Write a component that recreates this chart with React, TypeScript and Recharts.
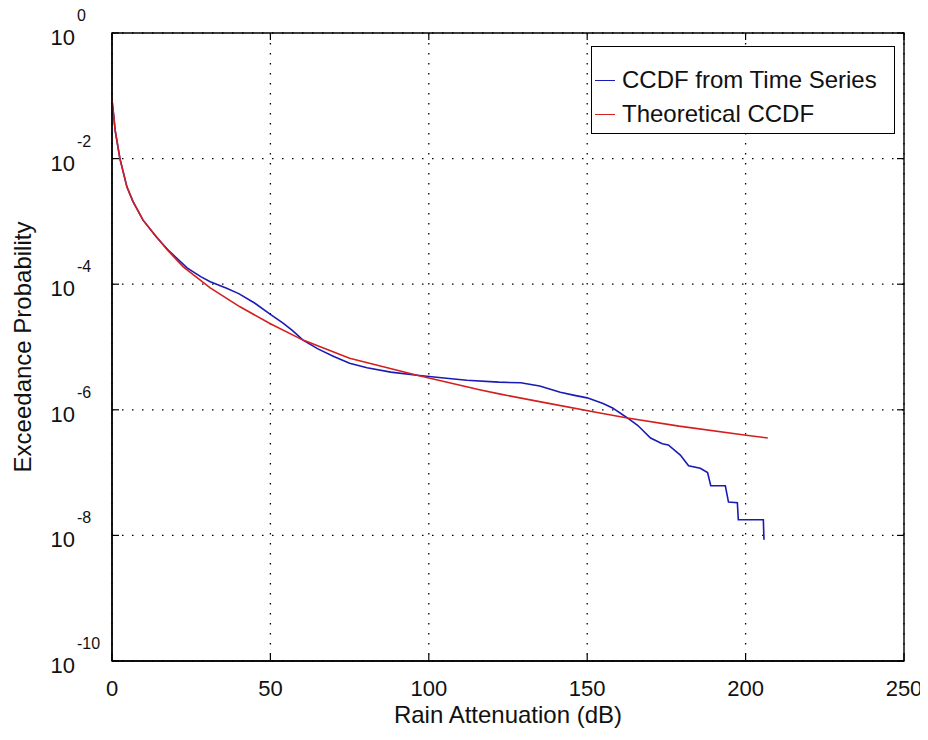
import {
  LineChart,
  Line,
  XAxis,
  YAxis,
  CartesianGrid,
  Legend,
  Label,
  ReferenceArea,
  ReferenceLine,
} from "recharts"

// x axis: rain attenuation in dB
const attenuationTicks = [0, 50, 100, 150, 200, 250]
// y axis: powers of ten shown on the log axis
const probabilityExponents = [-10, -8, -6, -4, -2, 0]

// CCDF from time series (blue) as log10 of probability
const timeSeriesDb = [
  0, 0.5, 1, 2.5, 4.7, 6.6, 9.8, 14, 18, 23.7, 28, 31, 36, 40, 45, 50, 54, 57, 60.3, 65, 70, 75,
  80.5, 88, 96.3, 104, 112, 122, 129, 135, 141.5, 146, 150, 155, 158, 162.7, 166, 170, 173.7,
  175.6, 179.4, 182, 185.7, 188, 189, 193.6, 194.6, 197.4, 197.7, 205.6, 205.8,
]
const timeSeriesLog10 = [
  -1.07, -1.3, -1.55, -2.0, -2.45, -2.68, -2.98, -3.25, -3.47, -3.74, -3.88, -3.96, -4.06, -4.15,
  -4.3, -4.48, -4.62, -4.74, -4.89, -5.03, -5.15, -5.26, -5.33, -5.4, -5.45, -5.49, -5.53, -5.56,
  -5.57, -5.62, -5.72, -5.77, -5.81, -5.9, -5.97, -6.13, -6.25, -6.45, -6.54, -6.56, -6.72, -6.89,
  -6.93, -7.0, -7.21, -7.21, -7.47, -7.48, -7.75, -7.75, -8.07,
]

// theoretical CCDF (red)
const theoreticalDb = [
  0, 0.5, 1, 2.5, 4.7, 6.6, 9.8, 13, 17.4, 22.4, 31, 40.4, 50, 60.3, 75, 96.3, 116, 122.6, 137,
  154, 162.7, 179, 199.6, 207,
]
const theoreticalLog10 = [
  -1.07, -1.3, -1.55, -2.0, -2.45, -2.68, -2.98, -3.18, -3.45, -3.72, -4.06, -4.36, -4.63, -4.89,
  -5.18, -5.45, -5.68, -5.75, -5.89, -6.05, -6.13, -6.26, -6.4, -6.45,
]

const seriesNames = ["CCDF from Time Series", "Theoretical CCDF"]
const seriesColors = ["#1a1ab4", "#d41f1f"]

const timeSeriesData = timeSeriesDb.map((x, i) => ({ x, p: Math.pow(10, timeSeriesLog10[i]) }))
const theoreticalData = theoreticalDb.map((x, i) => ({ x, p: Math.pow(10, theoreticalLog10[i]) }))
const probabilityTicks = probabilityExponents.map((e) => Math.pow(10, e))

const FONT = "'Liberation Sans', Arial, Helvetica, sans-serif"
const INK = "#111"
const TICK_LEN = 7

function BottomTick({ x, y, payload }: any) {
  return (
    <g>
      <line x1={x} y1={y} x2={x} y2={y - TICK_LEN} stroke="#000" strokeWidth={1.2} />
      <text x={x} y={y + 35} textAnchor="middle" fontFamily={FONT} fontSize={22} fill={INK}>
        {payload.value}
      </text>
    </g>
  )
}

function LeftTick({ x, y, payload }: any) {
  const exp = Math.round(Math.log10(payload.value))
  return (
    <g>
      <line x1={x} y1={y} x2={x + TICK_LEN} y2={y} stroke="#000" strokeWidth={1.2} />
      <text x={x - 37} y={y + 12} textAnchor="end" fontFamily={FONT} fontSize={22} fill={INK}>
        10
      </text>
      <text x={x - 35} y={y - 12} fontFamily={FONT} fontSize={16} fill={INK}>
        {exp}
      </text>
    </g>
  )
}

// inward tick at the top edge of a vertical reference line
function TopTickShape({ x1, y1, y2 }: any) {
  const top = Math.min(y1, y2)
  return <line x1={x1} y1={top} x2={x1} y2={top + TICK_LEN} stroke="#000" strokeWidth={1.2} />
}

// inward tick at the right edge of a horizontal reference line
function RightTickShape({ x1, x2, y1 }: any) {
  const right = Math.max(x1, x2)
  return <line x1={right} y1={y1} x2={right - TICK_LEN} y2={y1} stroke="#000" strokeWidth={1.2} />
}

function XTitle({ viewBox }: any) {
  return (
    <text
      x={viewBox.x + viewBox.width / 2}
      y={viewBox.y + 62}
      textAnchor="middle"
      fontFamily={FONT}
      fontSize={24}
      fill={INK}
    >
      Rain Attenuation (dB)
    </text>
  )
}

function YTitle({ viewBox }: any) {
  const cy = viewBox.y + viewBox.height / 2
  return (
    <text
      transform={`translate(${viewBox.x - 30},${cy}) rotate(-90)`}
      textAnchor="middle"
      dominantBaseline="central"
      fontFamily={FONT}
      fontSize={24}
      fill={INK}
    >
      Exceedance Probability
    </text>
  )
}

function LegendBox() {
  return (
    <div
      style={{
        width: 304,
        height: 88,
        boxSizing: "border-box",
        border: "1px solid #000",
        background: "#fff",
        paddingTop: 16,
      }}
    >
      {seriesNames.map((name, i) => (
        <div key={name} style={{ height: 34, display: "flex", alignItems: "center" }}>
          <div style={{ width: 20, marginLeft: 3, borderTop: `1.5px solid ${seriesColors[i]}` }} />
          <span
            style={{
              marginLeft: 7,
              fontFamily: FONT,
              fontSize: 24,
              lineHeight: 1,
              color: INK,
              whiteSpace: "nowrap",
            }}
          >
            {name}
          </span>
        </div>
      ))}
    </div>
  )
}

export default function App() {
  return (
    <LineChart width={920} height={724} margin={{ top: 25, right: 24, bottom: 21, left: 44 }}>
      <CartesianGrid stroke="#000" strokeWidth={1.3} strokeDasharray="1.5 8.5" />
      <XAxis
        dataKey="x"
        type="number"
        domain={[0, 250]}
        ticks={attenuationTicks}
        allowDataOverflow
        height={50}
        axisLine={{ stroke: "#000", strokeWidth: 1.4 }}
        tickLine={false}
        tickSize={0}
        tickMargin={0}
        tick={BottomTick}
        interval={0}
      >
        <Label content={XTitle} />
      </XAxis>
      <YAxis
        scale="log"
        domain={[1e-10, 1]}
        ticks={probabilityTicks}
        allowDataOverflow
        width={60}
        axisLine={{ stroke: "#000", strokeWidth: 1.4 }}
        tickLine={false}
        tickSize={0}
        tickMargin={0}
        tick={LeftTick}
        interval={0}
      >
        <Label content={YTitle} />
      </YAxis>
      <ReferenceArea
        x1={0}
        x2={250}
        y1={1e-10}
        y2={1}
        fill="none"
        fillOpacity={0}
        stroke="#000"
        strokeWidth={1.4}
        ifOverflow="visible"
      />
      {attenuationTicks.map((t) => (
        <ReferenceLine key={`tx${t}`} x={t} shape={TopTickShape} ifOverflow="visible" />
      ))}
      {probabilityTicks.map((t) => (
        <ReferenceLine key={`ty${t}`} y={t} shape={RightTickShape} ifOverflow="visible" />
      ))}
      <Legend
        layout="horizontal"
        verticalAlign="middle"
        content={LegendBox}
        wrapperStyle={{ left: 583, top: 38, width: 304 }}
      />
      <Line
        data={timeSeriesData}
        dataKey="p"
        name={seriesNames[0]}
        stroke={seriesColors[0]}
        strokeWidth={1.6}
        dot={false}
        type="linear"
        isAnimationActive={false}
      />
      <Line
        data={theoreticalData}
        dataKey="p"
        name={seriesNames[1]}
        stroke={seriesColors[1]}
        strokeWidth={1.6}
        dot={false}
        type="linear"
        isAnimationActive={false}
      />
    </LineChart>
  )
}
